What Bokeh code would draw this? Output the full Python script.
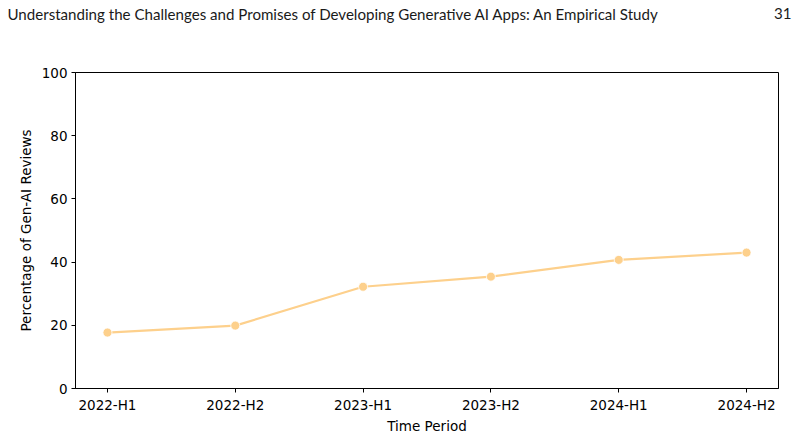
from bokeh.plotting import figure
from bokeh.models import Range1d, FixedTicker
from bokeh.layouts import column, row
from bokeh.core.properties import value
from bokeh.embed import file_html
from bokeh.resources import INLINE

# Share of Gen-AI reviews per half-year
periods = ["2022-H1", "2022-H2", "2023-H1", "2023-H2", "2024-H1", "2024-H2"]
share_pct = [17.7, 19.9, 32.2, 35.4, 40.7, 43.0]
y_ticks = [0, 20, 40, 60, 80, 100]

header_text = "Understanding the Challenges and Promises of Developing Generative AI Apps: An Empirical Study"
page_number = "31"

LINE_COLOR = "#fdd08c"
FONT = "DejaVu Sans"
TICK_SIZE = "13.5px"
HEADER_FONT = "Lato"
HEADER_SIZE = "15.1px"

W = 799
HEADER_H = 30
TOTAL_H = 436

# --- running page header strip ---
head = figure(
    width=W, height=HEADER_H, output_backend="svg", toolbar_location=None,
    x_range=Range1d(0, W), y_range=Range1d(0, HEADER_H),
    min_border=0, x_axis_type=None, y_axis_type=None,
)
head.outline_line_color = None
head.xgrid.grid_line_color = None
head.ygrid.grid_line_color = None
head.text(x=[7], y=[HEADER_H - 13], text=[header_text], text_font=value(HEADER_FONT),
          text_font_size=HEADER_SIZE, text_color="#1a1a1a",
          text_baseline="middle", text_align="left")
head.text(x=[W - 8], y=[HEADER_H - 13], text=[page_number], text_font=value(HEADER_FONT),
          text_font_size=HEADER_SIZE, text_color="#1a1a1a",
          text_baseline="middle", text_align="right")

# --- main line chart ---
xs = list(range(len(periods)))
x_lo, x_hi = -0.25, len(periods) - 0.75

p = figure(
    width=W, height=TOTAL_H - HEADER_H,
    output_backend="svg", toolbar_location=None,
    x_range=Range1d(x_lo, x_hi),
    y_range=Range1d(0, 100),
    min_border_left=75, min_border_right=21,
    min_border_top=72 - HEADER_H, min_border_bottom=47,
)

p.line(xs, share_pct, line_color=LINE_COLOR, line_width=2.2)
p.scatter(xs, share_pct, size=9, fill_color=LINE_COLOR, line_color="white", line_width=0.8)

p.xaxis.ticker = FixedTicker(ticks=xs)
p.xaxis.major_label_overrides = {i: lab for i, lab in enumerate(periods)}
p.yaxis.ticker = FixedTicker(ticks=y_ticks)

p.xaxis.axis_label = "Time Period"
p.yaxis.axis_label = "Percentage of Gen-AI Reviews"

for ax in (p.xaxis, p.yaxis):
    ax.major_tick_in = 0
    ax.major_tick_out = 4
    ax.minor_tick_line_color = None
    ax.axis_line_color = "black"
    ax.major_tick_line_color = "black"
    ax.major_label_text_font = FONT
    ax.major_label_text_font_size = TICK_SIZE
    ax.major_label_text_color = "black"
    ax.axis_label_text_font = FONT
    ax.axis_label_text_font_size = TICK_SIZE
    ax.axis_label_text_font_style = "normal"
    ax.axis_label_text_color = "black"

p.xaxis.major_label_standoff = 4
p.xaxis.axis_label_standoff = 2
p.yaxis.major_label_standoff = 4
p.yaxis.axis_label_standoff = 5

p.xgrid.grid_line_color = None
p.ygrid.grid_line_color = None
p.outline_line_color = "black"
p.outline_line_width = 1
p.outline_line_alpha = 1

# the header sits in its own row so its frame spans the full page width
layout = column(row(head), p, spacing=0)
open("out.html", "w").write(file_html(layout, INLINE))
